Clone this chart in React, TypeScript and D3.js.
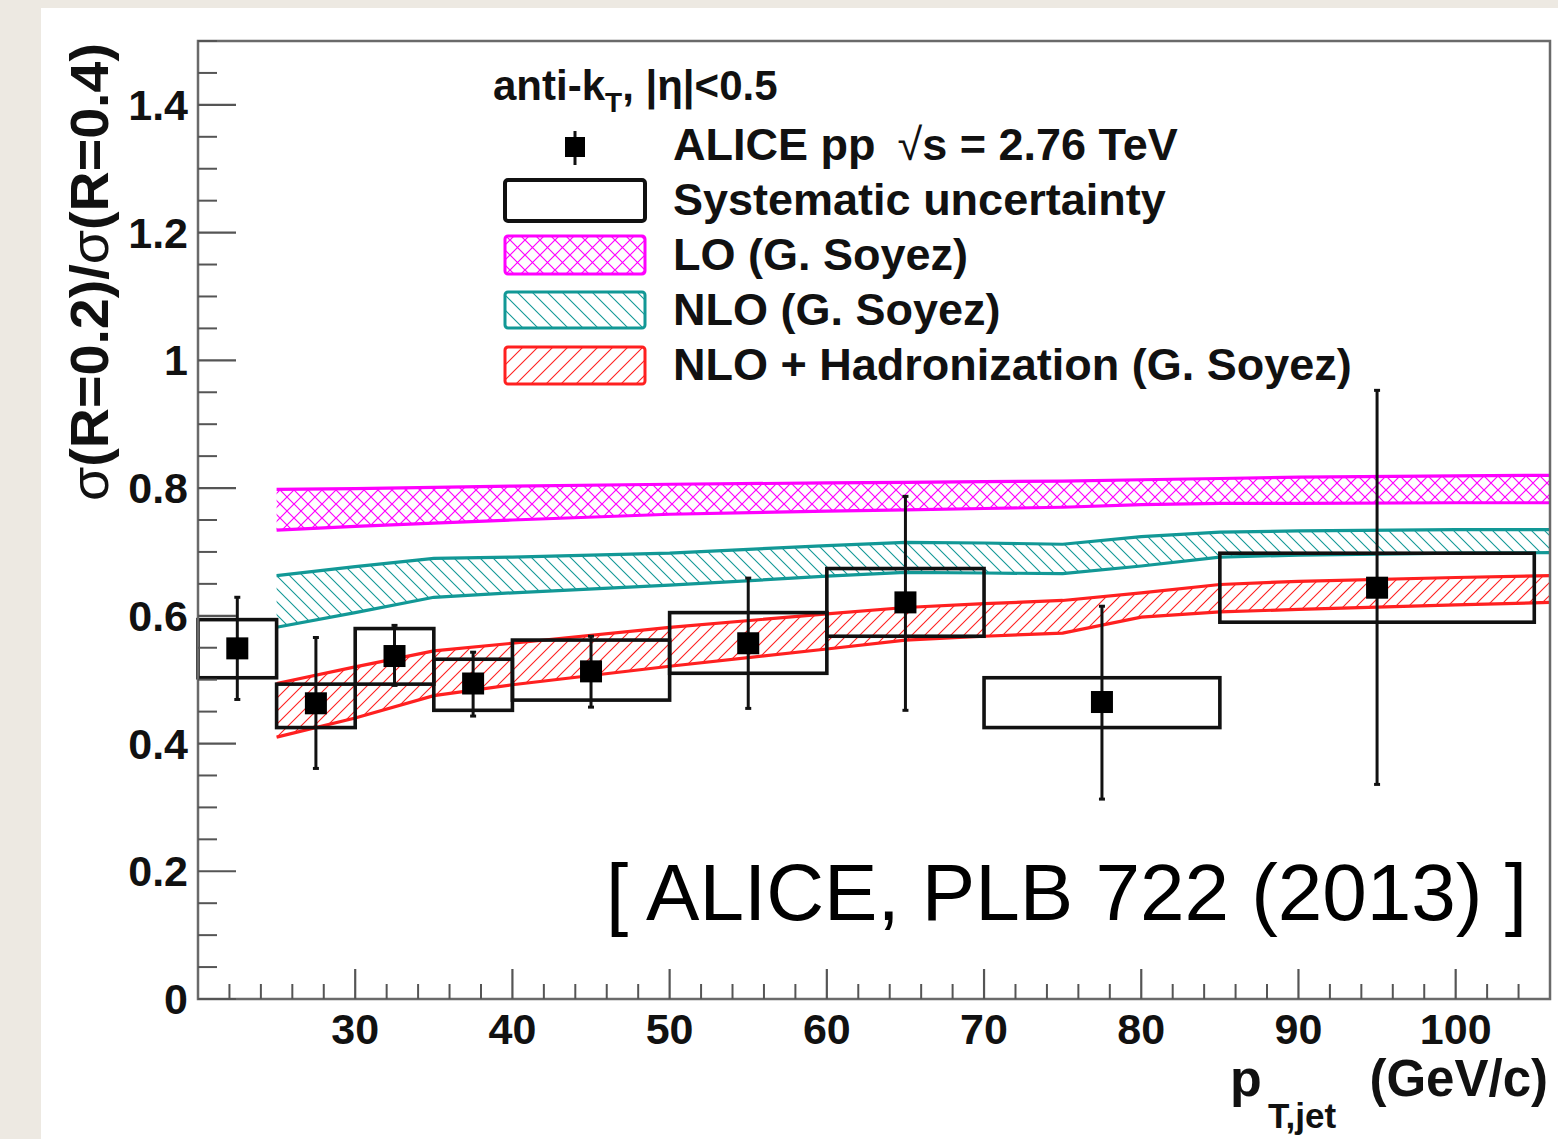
import React from "react";
import * as d3 from "d3";

// ---- data ----
const binLo = [20, 25, 30, 35, 40, 50, 60, 70, 85];
const binHi = [25, 30, 35, 40, 50, 60, 70, 85, 105];
const ptX = [22.5, 27.5, 32.5, 37.5, 45, 55, 65, 77.5, 95];
const ratio = [0.549, 0.463, 0.537, 0.494, 0.513, 0.557, 0.621, 0.465, 0.644];
const statLo = [0.469, 0.361, 0.491, 0.443, 0.457, 0.455, 0.452, 0.313, 0.336];
const statHi = [0.629, 0.566, 0.585, 0.543, 0.568, 0.659, 0.787, 0.615, 0.953];
const sysLo = [0.503, 0.425, 0.493, 0.452, 0.468, 0.51, 0.568, 0.425, 0.59];
const sysHi = [0.594, 0.493, 0.58, 0.532, 0.562, 0.605, 0.674, 0.503, 0.698];

const bandX = [25, 30, 35, 40, 50, 60, 65, 70, 75, 80, 85, 90, 100, 106];
const loHi = [0.798, 0.799, 0.801, 0.803, 0.806, 0.808, 0.809, 0.81, 0.811, 0.813, 0.815, 0.817, 0.819, 0.82];
const loLo = [0.734, 0.74, 0.745, 0.75, 0.759, 0.764, 0.766, 0.768, 0.77, 0.774, 0.776, 0.776, 0.777, 0.777];
const nloHi = [0.663, 0.677, 0.69, 0.692, 0.698, 0.71, 0.715, 0.714, 0.712, 0.724, 0.731, 0.733, 0.735, 0.735];
const nloLo = [0.582, 0.605, 0.629, 0.636, 0.648, 0.662, 0.668, 0.667, 0.666, 0.678, 0.692, 0.695, 0.698, 0.699];
const hadHi = [0.494, 0.52, 0.545, 0.557, 0.582, 0.603, 0.613, 0.619, 0.624, 0.636, 0.649, 0.654, 0.66, 0.663];
const hadLo = [0.41, 0.44, 0.475, 0.492, 0.521, 0.548, 0.562, 0.568, 0.573, 0.598, 0.606, 0.61, 0.617, 0.621];

const yMajor = [0, 0.2, 0.4, 0.6, 0.8, 1, 1.2, 1.4];
const yMajorLabels = ["0", "0.2", "0.4", "0.6", "0.8", "1", "1.2", "1.4"];
const xMajor = [30, 40, 50, 60, 70, 80, 90, 100];

const legendLabels = [
  "Systematic uncertainty",
  "LO (G. Soyez)",
  "NLO (G. Soyez)",
  "NLO + Hadronization (G. Soyez)",
];

const MAGENTA = "#ff00ff";
const TEAL = "#129896";
const RED = "#ff2020";
const FONT = "'Liberation Sans', Arial, Helvetica, sans-serif";

export default function App() {
  const W = 1558, H = 1139;
  const L = 198, R = 1550, T = 41, B = 999;
  const x = d3.scaleLinear().domain([20, 106]).range([L, R]);
  const y = d3.scaleLinear().domain([0, 1.5]).range([B, T]);

  const yMinor = d3.range(0, 1.5001, 0.05).filter((v) => Math.abs(Math.round(v / 0.2) * 0.2 - v) > 1e-6);
  const xMinor = d3.range(22, 105, 2).filter((v) => v % 10 !== 0);

  const band = (hi: number[], lo: number[]) =>
    d3
      .area<number>()
      .x((_, i) => x(bandX[i]))
      .y0((_, i) => y(lo[i]))
      .y1((_, i) => y(hi[i]))(bandX.map((_, i) => i)) as string;
  const line = (vals: number[]) =>
    d3
      .line<number>()
      .x((_, i) => x(bandX[i]))
      .y((v) => y(v))(vals) as string;

  const bands = [
    { hi: loHi, lo: loLo, color: MAGENTA, pat: "patLO" },
    { hi: nloHi, lo: nloLo, color: TEAL, pat: "patNLO" },
    { hi: hadHi, lo: hadLo, color: RED, pat: "patHAD" },
  ];

  const legX = 505, legW = 140;
  const legRows = [
    { y0: 180, h: 41, stroke: "#111", fill: "white", sw: 4 },
    { y0: 236, h: 38, stroke: MAGENTA, fill: "url(#patLOleg)", sw: 3 },
    { y0: 292, h: 36, stroke: TEAL, fill: "url(#patNLOleg)", sw: 3 },
    { y0: 347, h: 37, stroke: RED, fill: "url(#patHADleg)", sw: 3 },
  ];
  const legTextY = [215, 270, 325, 380];

  return (
    <div style={{ position: "absolute", left: 0, top: 0 }}>
      <svg width={W} height={H} viewBox={`0 0 ${W} ${H}`} style={{ display: "block" }}>
        <defs>
          <pattern id="patLO" width="14" height="14" patternUnits="userSpaceOnUse">
            <path d="M0,0 L14,14 M14,0 L0,14" stroke={MAGENTA} strokeWidth="1.2" fill="none" />
          </pattern>
          <pattern id="patNLO" width="13" height="13" patternUnits="userSpaceOnUse">
            <path d="M-3,-3 L16,16 M-3,10 L3,16 M10,-3 L16,3" stroke={TEAL} strokeWidth="1.1" fill="none" />
          </pattern>
          <pattern id="patHAD" width="13" height="13" patternUnits="userSpaceOnUse">
            <path d="M-3,16 L16,-3 M-3,3 L3,-3 M10,16 L16,10" stroke={RED} strokeWidth="1.1" fill="none" />
          </pattern>
          <pattern id="patLOleg" width="15" height="15" patternUnits="userSpaceOnUse">
            <path d="M0,0 L15,15 M15,0 L0,15" stroke={MAGENTA} strokeWidth="1.2" fill="none" />
          </pattern>
          <pattern id="patNLOleg" width="15" height="15" patternUnits="userSpaceOnUse">
            <path d="M-3,-3 L18,18 M-3,12 L3,18 M12,-3 L18,3" stroke={TEAL} strokeWidth="1.1" fill="none" />
          </pattern>
          <pattern id="patHADleg" width="15" height="15" patternUnits="userSpaceOnUse">
            <path d="M-3,18 L18,-3 M-3,3 L3,-3 M12,18 L18,12" stroke={RED} strokeWidth="1.1" fill="none" />
          </pattern>
          <clipPath id="frameClip">
            <rect x={L} y={T} width={R - L} height={B - T} />
          </clipPath>
        </defs>

        {/* page background */}
        <rect x={0} y={0} width={W} height={H} fill="#ede9e2" />
        <rect x={41} y={8} width={W - 41} height={H - 8} fill="#ffffff" />

        {/* theory bands */}
        <g clipPath="url(#frameClip)">
          {bands.map((b, k) => (
            <g key={k}>
              <path d={band(b.hi, b.lo)} fill={`url(#${b.pat})`} stroke="none" />
              <path d={line(b.hi)} fill="none" stroke={b.color} strokeWidth={3.2} />
              <path d={line(b.lo)} fill="none" stroke={b.color} strokeWidth={3.2} />
            </g>
          ))}
        </g>

        {/* systematic boxes */}
        {binLo.map((lo, i) => (
          <rect
            key={"s" + i}
            x={x(lo)}
            y={y(sysHi[i])}
            width={x(binHi[i]) - x(lo)}
            height={y(sysLo[i]) - y(sysHi[i])}
            fill="none"
            stroke="#111"
            strokeWidth={3.6}
          />
        ))}

        {/* stat error bars and points */}
        {ptX.map((px, i) => (
          <g key={"p" + i}>
            <line x1={x(px)} x2={x(px)} y1={y(statLo[i])} y2={y(statHi[i])} stroke="#111" strokeWidth={3} />
            <line x1={x(px) - 3} x2={x(px) + 3} y1={y(statLo[i])} y2={y(statLo[i])} stroke="#111" strokeWidth={3} />
            <line x1={x(px) - 3} x2={x(px) + 3} y1={y(statHi[i])} y2={y(statHi[i])} stroke="#111" strokeWidth={3} />
            <rect x={x(px) - 11} y={y(ratio[i]) - 11} width={22} height={22} fill="#000" />
          </g>
        ))}

        {/* frame */}
        <rect x={L} y={T} width={R - L} height={B - T} fill="none" stroke="#6a6a6a" strokeWidth={2.5} />

        {/* y ticks */}
        {yMajor.map((v, i) => (
          <g key={"ym" + i}>
            <line x1={L} x2={L + 38} y1={y(v)} y2={y(v)} stroke="#555" strokeWidth={2.2} />
            <text
              x={188}
              y={y(v) + 15}
              textAnchor="end"
              fontFamily={FONT}
              fontWeight="bold"
              fontSize={43}
              fill="#111"
            >
              {yMajorLabels[i]}
            </text>
          </g>
        ))}
        {yMinor.map((v, i) => (
          <line key={"yn" + i} x1={L} x2={L + 19} y1={y(v)} y2={y(v)} stroke="#555" strokeWidth={2} />
        ))}

        {/* x ticks */}
        {xMajor.map((v, i) => (
          <g key={"xm" + i}>
            <line x1={x(v)} x2={x(v)} y1={B} y2={B - 30} stroke="#555" strokeWidth={2.2} />
            <text
              x={x(v)}
              y={1044}
              textAnchor="middle"
              fontFamily={FONT}
              fontWeight="bold"
              fontSize={43}
              fill="#111"
            >
              {v}
            </text>
          </g>
        ))}
        {xMinor.map((v, i) => (
          <line key={"xn" + i} x1={x(v)} x2={x(v)} y1={B} y2={B - 15} stroke="#555" strokeWidth={2} />
        ))}

        {/* y title */}
        <text
          transform="translate(108,272) rotate(-90)"
          textAnchor="middle"
          fontFamily={FONT}
          fontWeight="bold"
          fontSize={54}
          fill="#111"
          textLength={458}
          lengthAdjust="spacingAndGlyphs"
        >
          <tspan fontWeight="normal">σ</tspan>
          <tspan>(R=0.2)/</tspan>
          <tspan fontWeight="normal">σ</tspan>
          <tspan>(R=0.4)</tspan>
        </text>

        {/* x title */}
        <text x={1230} y={1096} fontFamily={FONT} fontWeight="bold" fontSize={52} fill="#111">
          p
        </text>
        <text x={1268} y={1128} fontFamily={FONT} fontWeight="bold" fontSize={35} fill="#111">
          T,jet
        </text>
        <text x={1548} y={1096} textAnchor="end" fontFamily={FONT} fontWeight="bold" fontSize={51} fill="#111">
          (GeV/c)
        </text>

        {/* legend header */}
        <text x={493} y={100} fontFamily={FONT} fontWeight="bold" fontSize={42} fill="#111">
          anti-k
          <tspan fontSize={28} dy={12}>T</tspan>
          <tspan dy={-12}>, |η|&lt;0.5</tspan>
        </text>

        {/* legend: data marker */}
        <line x1={575} x2={575} y1={131} y2={165} stroke="#111" strokeWidth={3} />
        <rect x={565} y={137} width={20} height={20} fill="#000" />
        <text x={673} y={160} fontFamily={FONT} fontWeight="bold" fontSize={45} fill="#111">
          ALICE pp
          <tspan dx={22} fontWeight="normal">√</tspan>
          <tspan>s = 2.76 TeV</tspan>
        </text>

        {/* legend: boxes */}
        {legRows.map((r, i) => (
          <g key={"lg" + i}>
            <rect x={legX} y={r.y0} width={legW} height={r.h} rx={3} fill={r.fill} stroke={r.stroke} strokeWidth={r.sw} />
            <text x={673} y={legTextY[i]} fontFamily={FONT} fontWeight="bold" fontSize={45} fill="#111">
              {legendLabels[i]}
            </text>
          </g>
        ))}

        {/* reference */}
        <text x={606} y={920} fontFamily={FONT} fontSize={80} fill="#000" textLength={921} lengthAdjust="spacingAndGlyphs">
          [ ALICE, PLB 722 (2013) ]
        </text>
      </svg>
    </div>
  );
}
